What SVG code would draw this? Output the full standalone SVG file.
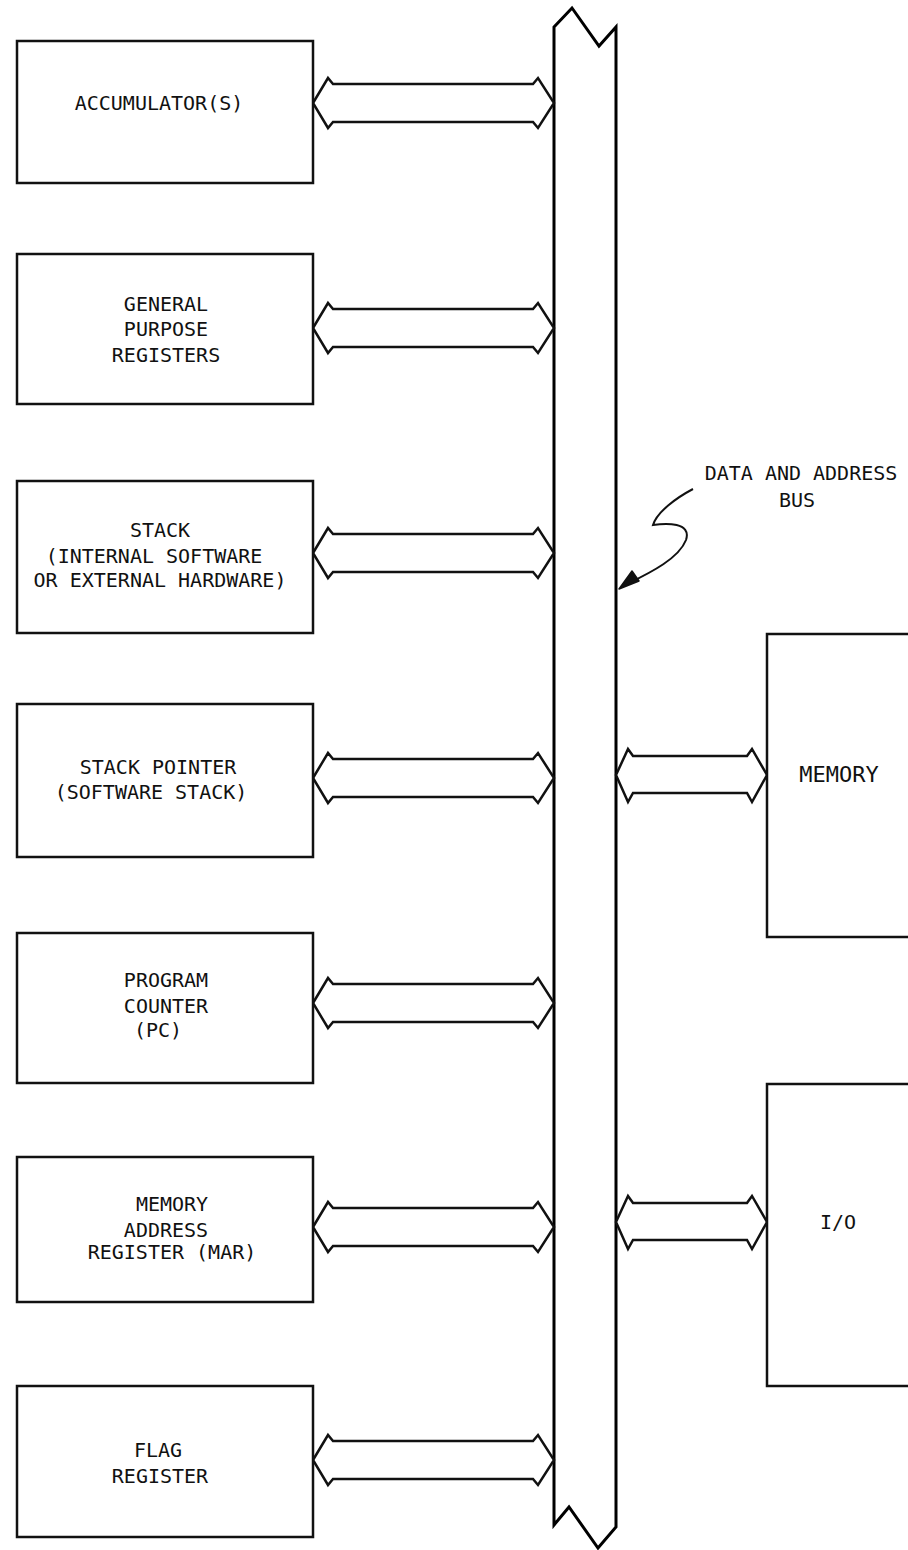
<svg xmlns="http://www.w3.org/2000/svg" width="908" height="1550" viewBox="0 0 908 1550">
<style>
.box{fill:#fff;stroke:#111;stroke-width:2.5}
.bus{fill:#fff;stroke:#000;stroke-width:3;stroke-linejoin:miter}
.arr{fill:#fff;stroke:#111;stroke-width:2.5;stroke-linejoin:miter}
.t{font-family:"DejaVu Sans Mono","Liberation Mono",monospace;font-size:20px;fill:#111;text-anchor:middle}
.note{fill:none;stroke:#111;stroke-width:2}
</style>
<defs>
<path id="la" class="arr" d="M313,0 L328,-25 L333,-19 L533,-19 L538,-25 L554,0 L538,25 L533,19 L333,19 L328,25 Z"/>
<path id="ra" class="arr" d="M616,0 L628,-26 L633,-19 L747,-19 L752,-26 L767,0 L752,27 L747,18 L633,18 L628,27 Z"/>
</defs>
<rect width="908" height="1550" fill="#fff"/>
<g id="bus">
<path class="bus" d="M554,27 L572,8 L599,46 L616,27 L616,1527 L598,1548 L569,1507 L554,1525 Z"/>
</g>
<g id="connectors">
<use href="#la" transform="translate(0,103)"/>
<use href="#la" transform="translate(0,328)"/>
<use href="#la" transform="translate(0,553)"/>
<use href="#la" transform="translate(0,778)"/>
<use href="#la" transform="translate(0,1003)"/>
<use href="#la" transform="translate(0,1227)"/>
<use href="#la" transform="translate(0,1460)"/>
<use href="#ra" transform="translate(0,775)"/>
<use href="#ra" transform="translate(0,1222)"/>
</g>
<g id="n-acc">
<rect class="box" x="17" y="41" width="296" height="142"/>
<text class="t" x="159" y="110">ACCUMULATOR(S)</text>
</g>
<g id="n-gpr">
<rect class="box" x="17" y="254" width="296" height="150"/>
<text class="t" x="166" y="311">GENERAL</text>
<text class="t" x="166" y="336">PURPOSE</text>
<text class="t" x="166" y="362">REGISTERS</text>
</g>
<g id="n-stack">
<rect class="box" x="17" y="481" width="296" height="152"/>
<text class="t" x="160" y="537">STACK</text>
<text class="t" x="154" y="563">(INTERNAL SOFTWARE</text>
<text class="t" x="160" y="587">OR EXTERNAL HARDWARE)</text>
</g>
<g id="n-sp">
<rect class="box" x="17" y="704" width="296" height="153"/>
<text class="t" x="158" y="774">STACK POINTER</text>
<text class="t" x="151" y="799">(SOFTWARE STACK)</text>
</g>
<g id="n-pc">
<rect class="box" x="17" y="933" width="296" height="150"/>
<text class="t" x="166" y="987">PROGRAM</text>
<text class="t" x="166" y="1013">COUNTER</text>
<text class="t" x="158" y="1037">(PC)</text>
</g>
<g id="n-mar">
<rect class="box" x="17" y="1157" width="296" height="145"/>
<text class="t" x="172" y="1211">MEMORY</text>
<text class="t" x="166" y="1237">ADDRESS</text>
<text class="t" x="172" y="1259">REGISTER (MAR)</text>
</g>
<g id="n-flag">
<rect class="box" x="17" y="1386" width="296" height="151"/>
<text class="t" x="158" y="1457">FLAG</text>
<text class="t" x="160" y="1483">REGISTER</text>
</g>
<g id="n-memory">
<rect class="box" x="767" y="634" width="160" height="303"/>
<text class="t" x="839" y="782" style="font-size:22px">MEMORY</text>
</g>
<g id="n-io">
<rect class="box" x="767" y="1084" width="160" height="302"/>
<text class="t" x="838" y="1229">I/O</text>
</g>
<g id="bus-label">
<text class="t" x="801" y="480">DATA AND ADDRESS</text>
<text class="t" x="797" y="507">BUS</text>
<path class="note" d="M693,489 C676,498 657,512 653,525 C666,523 692,522 686,540 C679,558 652,572 627,584"/>
<polygon points="619,589 632,571 639,581" fill="#111" stroke="#111" stroke-width="1.5" stroke-linejoin="round"/>
</g>
</svg>
